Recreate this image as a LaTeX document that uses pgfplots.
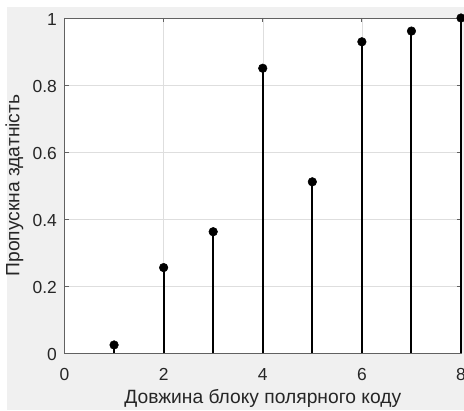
\documentclass[border=0pt]{standalone}
\usepackage{fontspec}
\setmainfont{Liberation Sans}
\usepackage{pgfplots}
\pgfplotsset{compat=1.18}
\definecolor{figbg}{HTML}{F0F0F0}
\definecolor{axc}{HTML}{262626}
\begin{document}
\begin{tikzpicture}[x=1bp,y=1bp]
\clip (-64.5,-57) rectangle (399.5,353);
\fill[white] (-64.5,-57) rectangle (399.5,353);
\fill[figbg] (-57.5,-57) rectangle (399.5,346);
\begin{axis}[
  at={(0,0)}, anchor=south west,
  scale only axis, width=396.5bp, height=335bp,
  xmin=0, xmax=8, ymin=0, ymax=1,
  xtick={0,2,4,6,8}, ytick={0,0.2,0.4,0.6,0.8,1},
  grid=major, grid style={draw=black!13, line width=0.5bp},
  axis line style={draw=black!62, line width=0.8bp},
  tick style={draw=black!62, line width=0.8bp},
  tick align=inside, major tick length=4bp,
  axis background/.style={fill=white},
  clip=false,
  ticklabel style={text=axc, font=\fontsize{17.5}{20}\selectfont},
  /pgf/number format/assume math mode=true,
  /pgf/number format/fixed,
  xticklabel style={anchor=base, inner sep=0pt, yshift=-27bp},
  yticklabel style={anchor=east, inner sep=0pt, xshift=-7.5bp, yshift=-1.5bp},
  xlabel={Довжина блоку полярного коду},
  ylabel={Пропускна здатність},
  label style={text=axc, font=\fontsize{19.3}{22}\selectfont, inner sep=0pt},
  xlabel style={at={(axis description cs:0.5,-0.1507)}, anchor=base},
  ylabel style={at={(axis description cs:-0.1135,0.5)}, anchor=base},
]
\addplot[ycomb, black, line width=2bp, mark=*, mark size=4.3bp, mark options={fill=black, line width=0.5bp}]
  coordinates {(1,0.024) (2,0.255) (3,0.362) (4,0.850) (5,0.511) (6,0.929) (7,0.961) (8,1.0)};
\end{axis}
\end{tikzpicture}
\end{document}
